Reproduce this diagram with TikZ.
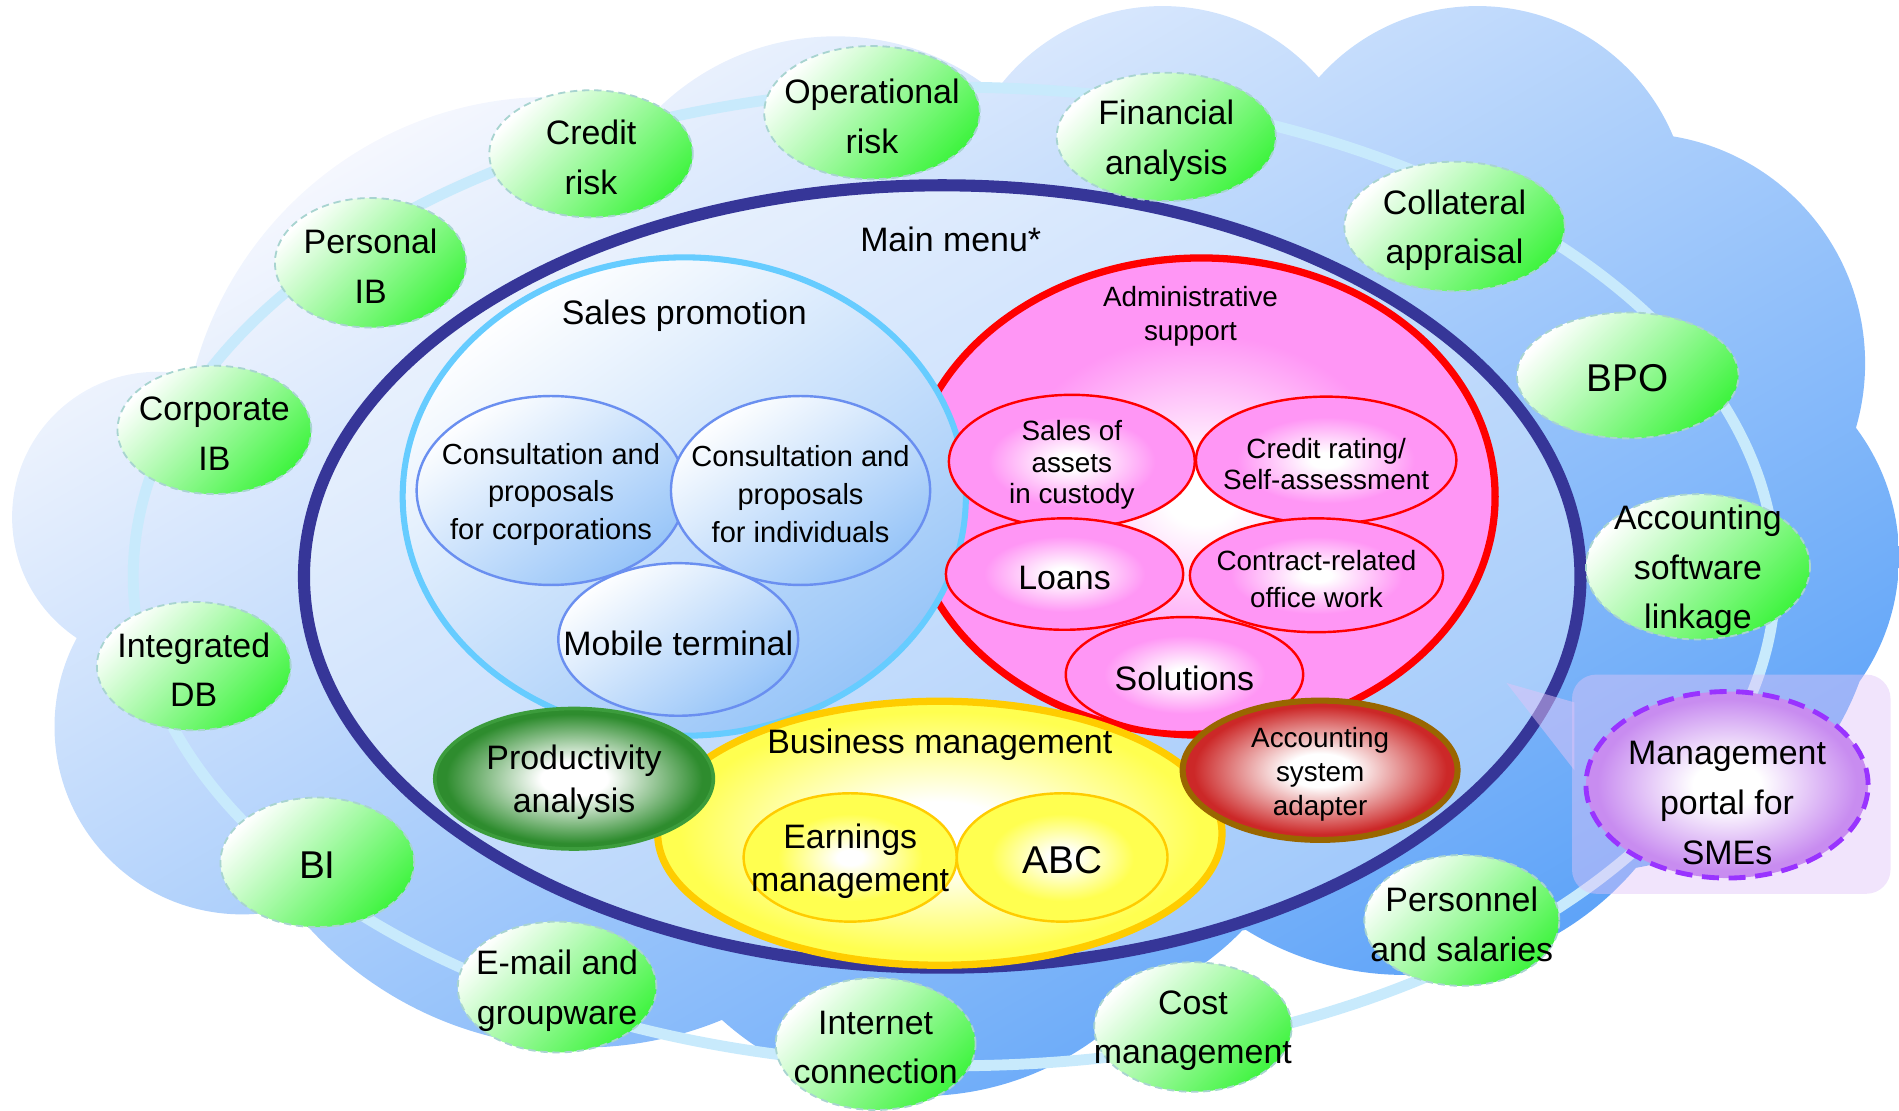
\documentclass[tikz,border=0pt]{standalone}
\usepackage{fontspec}
\setmainfont{Liberation Sans}
\usetikzlibrary{shapes.geometric}

\definecolor{navy}{RGB}{54,54,152}
\definecolor{ringblue}{RGB}{200,234,252}
\definecolor{cloudlight}{RGB}{250,250,254}
\definecolor{clouddark}{RGB}{88,160,248}
\definecolor{bubblegreen}{RGB}{64,244,64}
\definecolor{bubbleedge}{RGB}{168,212,208}
\definecolor{salesedge}{RGB}{102,204,255}
\definecolor{salesfill}{RGB}{150,196,248}
\definecolor{consultedge}{RGB}{106,143,240}
\definecolor{adminpink}{RGB}{255,150,245}
\definecolor{bizyellow}{RGB}{255,255,80}
\definecolor{bizedge}{RGB}{255,204,0}
\definecolor{prodgreen}{RGB}{46,140,46}
\definecolor{prodedge}{RGB}{60,156,60}
\definecolor{adapterred}{RGB}{204,40,40}
\definecolor{adapteredge}{RGB}{153,102,0}
\definecolor{portalviolet}{RGB}{200,140,240}
\definecolor{portaledge}{RGB}{153,51,255}
\definecolor{portalbox}{RGB}{224,196,248}

\colorlet{glowin}{white}
\colorlet{glowout}{red}
\pgfdeclareradialshading[glowin,glowout]{glow}{\pgfpoint{0bp}{0bp}}{color(0bp)=(glowin); color(3bp)=(glowin); color(17bp)=(glowout); color(50bp)=(glowout)}
\pgfdeclareradialshading[glowin,glowout]{softglow}{\pgfpoint{0bp}{0bp}}{color(0bp)=(glowin); color(6bp)=(glowin); color(23bp)=(glowout); color(50bp)=(glowout)}

\begin{document}
\begin{tikzpicture}[x=1pt, y=-1pt,
    bubble/.style={ellipse, draw=bubbleedge, line width=1.5pt, dash pattern=on 6pt off 4pt,
        left color=white, right color=bubblegreen, shading angle=45, inner sep=0pt},
    glowfill/.style={shade, shading=glow, /utils/exec={\colorlet{glowout}{#1}}},
    softfill/.style={shade, shading=softglow, /utils/exec={\colorlet{glowout}{#1}}},
    bigtext/.style={inner sep=0pt, yshift=-3pt, align=center, font=\fontsize{28}{41}\selectfont},
    midtext/.style={inner sep=0pt, yshift=-3pt, align=center, font=\fontsize{28}{35}\selectfont},
    smalltext/.style={inner sep=0pt, yshift=-3pt, align=center, font=\fontsize{23}{28}\selectfont},
    hugetext/.style={inner sep=0pt, yshift=-2pt, align=center, font=\fontsize{32}{38}\selectfont},
    consult/.style={ellipse, draw=consultedge, line width=2pt, inner sep=0pt,
        left color=white, right color=salesfill, shading angle=35},
    pinkitem/.style={ellipse, draw=red, line width=2pt, inner sep=0pt, glowfill=adminpink},
    yellowitem/.style={ellipse, draw=bizedge, line width=2pt, inner sep=0pt, glowfill=bizyellow}]

    \useasboundingbox (0,0) rectangle (1568,917);

    % Cloud background
    \shade[left color=cloudlight, right color=clouddark, shading angle=30]
        (130,427) circle (120pt) (200,600) circle (155pt) (455,385) circle (305pt)
        (690,240) circle (210pt) (960,175) circle (170pt) (1220,180) circle (175pt)
        (1350,300) circle (190pt) (1390,460) circle (178pt) (1310,480) circle (240pt)
        (1160,555) circle (250pt) (870,620) circle (215pt) (760,660) circle (245pt)
        (480,560) circle (305pt) (790,470) ellipse (650pt and 320pt);

    % Outer ring
    \draw[ringblue, line width=9pt] (788,476) ellipse (678pt and 404pt);

    % Main menu
    \node[ellipse, draw=navy, line width=10pt, fill=white, fill opacity=0.35,
          minimum width=1054pt, minimum height=646pt] (mainmenu) at (778,476) {};
    \node[midtext] (menutitle) at (785,195) {Main menu*};

    % Callout to the management portal
    \fill[portalbox, fill opacity=0.5] (1244,564) -- (1300,580) -- (1300,636) -- cycle;
    \fill[portalbox, fill opacity=0.45, rounded corners=20pt] (1298,557) rectangle (1561,738);

    % Administrative support
    \node[ellipse, draw=red, line width=6pt, glowfill=adminpink,
          minimum width=485pt, minimum height=394pt] (admin) at (992,410) {};
    \node[smalltext] (admintitle) at (983,258) {Administrative\\support};

    % Sales promotion
    \node[ellipse, draw=salesedge, line width=5pt, left color=white, middle color=white!75!salesfill,
          right color=salesfill, shading angle=35, minimum width=465pt, minimum height=395pt]
          (sales) at (565,410) {};
    \node[midtext] (salestitle) at (565,258) {Sales promotion};
    \node[consult, minimum width=222pt, minimum height=156pt,
          label={[smalltext, font=\fontsize{24}{31}\selectfont]center:{Consultation and\\proposals\\for corporations}}]
          (corporations) at (455,405) {};
    \node[consult, minimum width=214pt, minimum height=156pt,
          label={[smalltext, font=\fontsize{24}{31}\selectfont]center:{Consultation and\\proposals\\for individuals}}]
          (individuals) at (661,405) {};
    \node[consult, minimum width=198pt, minimum height=126pt,
          label={[midtext]center:Mobile terminal}] (mobile) at (560,528) {};

    % Administrative support items
    \node[pinkitem, minimum width=203pt, minimum height=110pt,
          label={[smalltext, font=\fontsize{23}{26}\selectfont]center:{Sales of\\assets\\in custody}}]
          (assets) at (885,381) {};
    \node[pinkitem, minimum width=215pt, minimum height=105pt,
          label={[smalltext, font=\fontsize{23}{26}\selectfont]center:{Credit rating/\\Self-assessment}}]
          (rating) at (1095,380) {};
    \node[pinkitem, minimum width=196pt, minimum height=92pt,
          label={[midtext]center:Loans}] (loans) at (879,474) {};
    \node[pinkitem, minimum width=209pt, minimum height=94pt,
          label={[smalltext, font=\fontsize{23}{31}\selectfont]center:{Contract-related\\office work}}]
          (contract) at (1087,475) {};
    \node[pinkitem, minimum width=196pt, minimum height=95pt,
          label={[midtext]center:Solutions}] (solutions) at (978,557) {};

    % Business management
    \node[ellipse, draw=bizedge, line width=6pt, softfill=bizyellow,
          minimum width=466pt, minimum height=218pt] (business) at (776,688) {};
    \node[midtext] (businesstitle) at (776,612) {Business management};
    \node[yellowitem, minimum width=176pt, minimum height=106pt,
          label={[midtext]center:{Earnings\\management}}] (earnings) at (702,708) {};
    \node[yellowitem, minimum width=174pt, minimum height=106pt,
          label={[hugetext]center:ABC}] (abc) at (877,708) {};

    % Productivity analysis and accounting adapter
    \node[ellipse, draw=prodedge, line width=3pt, softfill=prodgreen, inner sep=0pt,
          minimum width=230pt, minimum height=116pt,
          label={[midtext]center:{Productivity\\analysis}}] (productivity) at (474,643) {};
    \node[ellipse, draw=adapteredge, line width=5pt, softfill=adapterred, inner sep=0pt,
          minimum width=227pt, minimum height=115pt,
          label={[smalltext]center:{Accounting\\system\\adapter}}] (adapter) at (1090,636) {};

    % Surrounding services
    \node[bubble, minimum width=168pt, minimum height=105pt, label={[bigtext]center:{Credit\\risk}}] (creditrisk) at (488,127) {};
    \node[bubble, minimum width=178pt, minimum height=110pt, label={[bigtext]center:{Operational\\risk}}] (oprisk) at (720,93) {};
    \node[bubble, minimum width=181pt, minimum height=106pt, label={[bigtext]center:{Financial\\analysis}}] (finance) at (963,113) {};
    \node[bubble, minimum width=182pt, minimum height=107pt, label={[bigtext]center:{Collateral\\appraisal}}] (collateral) at (1201,187) {};
    \node[bubble, minimum width=183pt, minimum height=104pt, label={[hugetext]center:BPO}] (bpo) at (1344,310) {};
    \node[bubble, minimum width=185pt, minimum height=120pt, label={[bigtext]center:{Accounting\\software\\linkage}}] (acctlink) at (1402,468) {};
    \node[bubble, minimum width=158pt, minimum height=107pt, label={[bigtext]center:{Personal\\IB}}] (personalib) at (306,217) {};
    \node[bubble, minimum width=160pt, minimum height=106pt, label={[bigtext]center:{Corporate\\IB}}] (corpib) at (177,355) {};
    \node[bubble, minimum width=160pt, minimum height=106pt, label={[bigtext]center:{Integrated\\DB}}] (intdb) at (160,550) {};
    \node[bubble, minimum width=160pt, minimum height=107pt, label={[hugetext]center:BI}] (bi) at (262,712) {};
    \node[bubble, minimum width=164pt, minimum height=108pt, label={[bigtext]center:{E-mail and\\groupware}}] (email) at (460,815) {};
    \node[bubble, minimum width=165pt, minimum height=109pt, label={[bigtext]center:{Internet\\connection}}] (internet) at (723,862) {};
    \node[bubble, minimum width=163pt, minimum height=107pt, label={[bigtext]center:{Cost\\management}}] (cost) at (985,848) {};
    \node[bubble, minimum width=161pt, minimum height=108pt, label={[bigtext]center:{Personnel\\and salaries}}] (personnel) at (1207,760) {};

    % Management portal
    \node[ellipse, draw=portaledge, line width=4pt, dash pattern=on 14pt off 8pt,
          softfill=portalviolet, inner sep=0pt, minimum width=233pt, minimum height=154pt,
          label={[bigtext, yshift=-12pt]center:{Management\\portal for\\SMEs}}] (portal) at (1426,648) {};
\end{tikzpicture}
\end{document}
